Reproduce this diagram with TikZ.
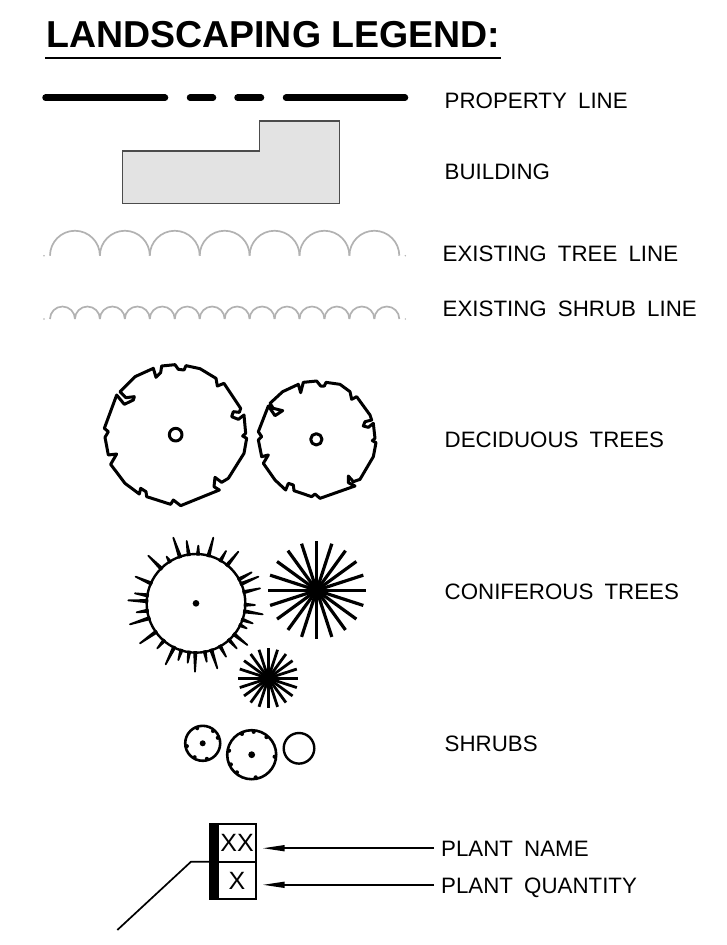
\documentclass[tikz,border=0pt]{standalone}
\usepackage{fontspec}
\setmainfont{Liberation Sans}
\newfontfamily\legendfont[WordSpace=1.8]{Liberation Sans}
\usepackage{tikz}
\usetikzlibrary{arrows.meta,calc}

\begin{document}
\begin{tikzpicture}[x=1pt,y=-1pt]
\tikzstyle{legendtext}=[anchor=base west,inner sep=0pt,font=\legendfont\fontsize{22.3}{23}\selectfont,text height=17pt,text depth=0pt]
\tikzstyle{plantcell}=[draw,line width=2pt,inner sep=0pt,minimum width=38pt,minimum height=37.6pt,font=\fontsize{25}{26}\selectfont]
\tikzstyle{propline}=[line width=6.5pt,line cap=round]
\tikzstyle{hedge}=[draw=black!30,line width=1.7pt]
\tikzstyle{outline}=[line width=3pt,line join=round]
\tikzstyle{spoke}=[line width=3.2pt]
\tikzstyle{pointer}=[line width=1.5pt,-{Stealth[length=22pt,width=6pt,inset=0pt]},shorten >=5.7pt,shorten <=7pt]
\useasboundingbox (0,0) rectangle (726,945);

% Title
\node (title) [anchor=base west,inner sep=0pt,font=\fontsize{37.5}{37.5}\selectfont\bfseries] at (46,47.5) {LANDSCAPING LEGEND:};
\draw[line width=2pt] (45,57.7) -- (501,57.7);

% Property line
\node (property) [legendtext] at (444.5,108.3) {PROPERTY LINE};
\draw[propline] (45.5,97.7) -- (165,97.7);
\draw[propline] (190,97.7) -- (213,97.7);
\draw[propline] (237.5,97.7) -- (261,97.7);
\draw[propline] (286,97.7) -- (405,97.7);

% Building
\node (building) [legendtext] at (444.5,179) {BUILDING};
\draw[draw=black!70,fill=black!11,line width=1.6pt] (122.3,151) -- (259.3,151) -- (259.3,120.7) -- (339.3,120.7) -- (339.3,203.3) -- (122.3,203.3) -- cycle;

% Tree and shrub lines
\node (treeline) [legendtext] at (442.5,261.7) {EXISTING TREE LINE};
\node (shrubline) [legendtext] at (442.5,316.7) {EXISTING SHRUB LINE};
\foreach \i in {0,...,6}
  \draw[hedge] (50+\i*49.9,255.7) arc[start angle=180,end angle=0,radius=24.95pt];
\foreach \i in {0,...,13}
  \draw[hedge] (50+\i*24.95,319) arc[start angle=180,end angle=0,radius=12.48pt];
\foreach \dotx/\doty in {44/255.7,405.3/255.7,44/319,405.3/319}
  \fill[black!30] (\dotx,\doty) circle (0.8);

% Deciduous trees
\node (deciduous) [legendtext] at (444.5,447) {DECIDUOUS TREES};
\begin{scope}[shift={(90,350)},scale=0.33333]
\draw[outline] (215,48) -- (255,44) -- (265,58) -- (282,60) -- (288,47) -- (330,56) -- (378,85) -- (382,108) -- (402,100) -- (452,175) -- (448,187) -- (430,185) -- (425,200) -- (445,208) -- (462,195) -- (467,250) -- (458,258) -- (470,265) -- (462,310) -- (415,385) -- (395,397) -- (375,382) -- (372,410) -- (388,420) -- (272,467) -- (250,450) -- (242,463) -- (170,440) -- (168,425) -- (152,415) -- (148,432) -- (105,400) -- (62,343) -- (80,312) -- (55,315) -- (45,262) -- (55,245) -- (43,235) -- (80,135) -- (103,163) -- (130,150) -- (133,140) -- (108,143) -- (90,125) -- (135,80) -- (190,55) -- (198,82) -- (212,68) -- cycle;
\draw[outline] (257,254) circle (19);
\draw[outline] (640,97) -- (680,93) -- (692,108) -- (703,108) -- (708,97) -- (750,103) -- (780,125) -- (785,148) -- (800,140) -- (840,195) -- (845,210) -- (825,215) -- (820,228) -- (835,232) -- (850,220) -- (855,265) -- (847,272) -- (858,278) -- (850,320) -- (810,388) -- (790,395) -- (775,378) -- (775,398) -- (795,408) -- (690,445) -- (675,432) -- (665,440) -- (612,422) -- (610,405) -- (595,400) -- (587,420) -- (555,390) -- (520,340) -- (535,315) -- (515,320) -- (505,270) -- (515,260) -- (505,245) -- (535,168) -- (555,197) -- (578,182) -- (550,175) -- (540,160) -- (578,125) -- (625,103) -- (632,128) -- cycle;
\draw[outline] (679,268) circle (17);
\end{scope}

% Coniferous trees
\node (coniferous) [legendtext] at (444.5,599) {CONIFEROUS TREES};
\begin{scope}[shift={(120,525)},scale=0.33333]
\coordinate (concenter) at (228,235);
\draw[line width=2.4pt] (concenter) circle (148);
\fill (concenter) circle (10);
\foreach \tipx/\tipy in {160/38,200/48,235/62,280/38,318/78,355/80,395/142,415/155,420/190,405/240,428/268,398/295,382/360,350/370,318/395,292/430,260/410,225/440,203/413,175/405,137/418,112/370,60/355,30/298,50/262,25/226,45/205,47/155,85/92,140/95,380/310}{
  \coordinate (contip) at (\tipx,\tipy);
  \coordinate (conbase) at ($(concenter)!146pt!(contip)$);
  \fill[line width=1.8pt,line join=round,draw] ($(conbase)!3.5pt!90:(contip)$) -- (contip) -- ($(conbase)!3.5pt!-90:(contip)$) -- cycle;
}
\end{scope}
% Spoked trees
\coordinate (bigstar) at (316.7,590.3);
\coordinate (smallstar) at (268.3,678.3);
\foreach \a in {0,18,...,342}{
  \draw[spoke] (bigstar) -- ++(\a:49);
  \draw[spoke,line width=2.8pt] (smallstar) -- ++(\a:30);
}
\fill (bigstar) circle (7);
\fill (smallstar) circle (6);

% Shrubs
\node (shrubs) [legendtext] at (444.5,751.5) {SHRUBS};
\coordinate (shrubone) at (202.7,743.3);
\coordinate (shrubtwo) at (251.7,754.7);
\coordinate (shrubthree) at (299,748.3);
\draw[line width=2.6pt] (shrubone) circle (17.5);
\draw[line width=2.6pt] (shrubtwo) circle (24.5);
\draw[line width=2.4pt] (shrubthree) circle (15.3);
\fill (shrubone) circle (3);
\fill (shrubtwo) circle (3.4);
\foreach \a in {75,-20,-50,-110,170,120}
  \fill (shrubone) ++(\a:16) circle (2);
\foreach \a in {80,5,-50,-85,-115,-170,155,130}
  \fill (shrubtwo) ++(\a:23) circle (2.1);

% Plant tag
\node (plantbar) [fill=black,draw,line width=2pt,inner sep=0pt,minimum width=8pt,minimum height=75.2pt] at (214,861.7) {};
\node (plantname) [plantcell] at (237,842.9) {XX};
\node (plantqty) [plantcell] at (237,880.5) {X};
\node (namelabel) [legendtext] at (441,856.7) {PLANT NAME};
\node (qtylabel) [legendtext] at (441,893.3) {PLANT QUANTITY};
\draw[pointer] (namelabel.west) -- (plantname.east |- namelabel.west);
\draw[pointer] (qtylabel.west) -- (plantqty.east |- qtylabel.west);
\coordinate (leaderend) at (117.3,930);
\coordinate (leaderbend) at (191,861.7);
\draw[line width=1.7pt] (leaderend) -- (leaderbend) -- (plantbar.west);
\end{tikzpicture}
\end{document}
